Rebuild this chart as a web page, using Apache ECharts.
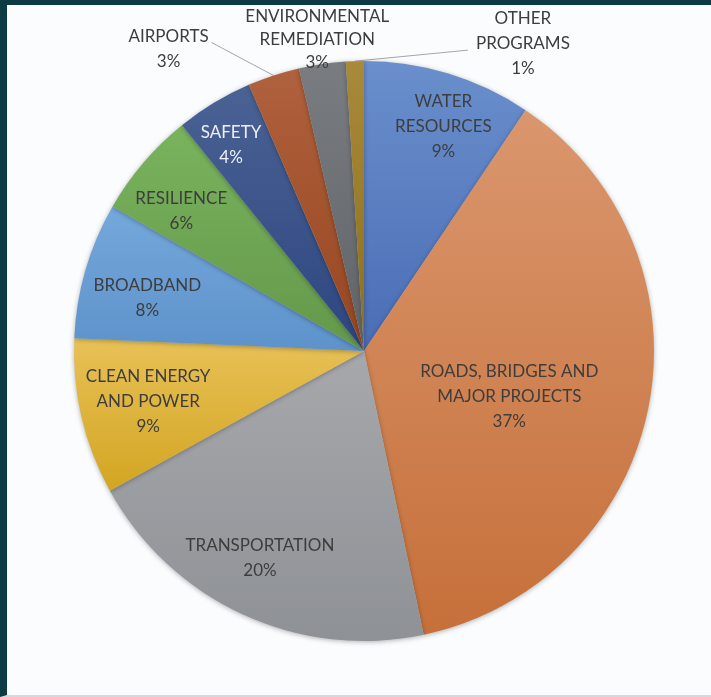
<!DOCTYPE html>
<html>
<head>
<meta charset="utf-8">
<script src="https://cdn.jsdelivr.net/npm/echarts@6/dist/echarts.min.js"></script>
<style>
  html, body { margin: 0; padding: 0; overflow: hidden; }
  #frame {
    position: absolute; left: 0; top: 0;
    width: 704px; height: 690px;
    border-left: 7px solid #0c3b44;
    border-top: 5px solid #0c3b44;
    border-bottom: 2px solid #d3d9dc;
    background: #fafcfd;
  }
  #chart { position: absolute; left: 0; top: 0; width: 711px; height: 697px; }
</style>
</head>
<body>
<div id="frame"></div>
<div id="chart"></div>
<script>
// categories, clockwise from 12 o'clock
const categories = [
  "WATER\nRESOURCES",
  "ROADS, BRIDGES AND\nMAJOR PROJECTS",
  "TRANSPORTATION",
  "CLEAN ENERGY\nAND POWER",
  "BROADBAND",
  "RESILIENCE",
  "SAFETY",
  "AIRPORTS",
  "ENVIRONMENTAL\nREMEDIATION",
  "OTHER\nPROGRAMS",
];
// share of total (%)
const shares = [9.4, 37.3, 20.3, 8.7, 7.6, 5.9, 4.3, 2.9, 2.6, 1.0];

// light (top) / dark (bottom) shade of each slice
const shadeTop = ["#6a8fcc", "#da966d", "#a6a8ac", "#e8c157", "#75a8db", "#7ab35d", "#4a6294", "#b0613d", "#797c80", "#a88a3a"];
const shadeBottom = ["#4a6db5", "#c6703a", "#8e9195", "#d3a522", "#5d92cb", "#63984a", "#2d4680", "#96461f", "#606367", "#8e6e1a"];

// labels the main pie places itself (the rest ride on the transparent ring)
const mainLabels = [1, 6, 7, 8, 9];
const lineLabels = [7, 9];

// small nudges of the ring labels
const ringNudge = { 0: [11, 0], 2: [-6, -7], 3: [13, -3], 4: [9, 13], 5: [-4, 13] };

const chart = echarts.init(document.getElementById("chart"));

const pctLabel = (p) => p.name + "\n" + Math.round(p.percent) + "%";

const mainData = categories.map((name, i) => ({
  name: name,
  value: shares[i],
  itemStyle: {
    color: new echarts.graphic.LinearGradient(0, 0, 0, 1, [
      { offset: 0, color: shadeTop[i] },
      { offset: 1, color: shadeBottom[i] },
    ]),
  },
  label: {
    show: mainLabels.includes(i),
    position: i === 1 ? "inside" : "outside",
    color: i === 6 ? "#eef0f4" : "#3d3d3d",
    lineHeight: i === 8 ? 23 : 25,
  },
  labelLine: { show: lineLabels.includes(i) },
}));

// transparent ring that only carries the inner labels further out
const ringData = categories.map((name, i) => ({
  name: name,
  value: shares[i],
  label: { show: !mainLabels.includes(i) },
}));

const labelFont = {
  fontFamily: "Lato",
  fontSize: 17,
  lineHeight: 25,
  color: "#3d3d3d",
  align: "center",
  formatter: pctLabel,
};

chart.setOption({
  backgroundColor: "transparent",
  animation: false,
  series: [
    {
      type: "pie",
      center: [364, 351],
      radius: 290,
      startAngle: 90,
      clockwise: true,
      avoidLabelOverlap: false,
      data: mainData,
      itemStyle: {
        shadowBlur: 5,
        shadowOffsetY: 1,
        shadowColor: "rgba(0,0,0,0.3)",
      },
      label: labelFont,
      labelLine: {
        length: 10,
        length2: 10,
        lineStyle: { color: "#a6a6a6", width: 1 },
      },
      labelLayout: function (params) {
        const pts = params.labelLinePoints;
        if (params.dataIndex === 1) {
          return { dy: 17 };
        }
        if (!pts) return {};
        const x0 = pts[0][0];
        const y0 = pts[0][1];
        if (params.dataIndex === 6) {
          return { x: x0 + 17, y: y0 + 42, align: "center", verticalAlign: "middle" };
        }
        if (params.dataIndex === 7) {
          return {
            x: x0 - 105, y: y0 - 26, align: "center", verticalAlign: "middle",
            labelLinePoints: [[x0, y0], [x0 - 62, y0 - 33]],
          };
        }
        if (params.dataIndex === 8) {
          return { x: x0 - 5, y: y0 - 25, align: "center", verticalAlign: "middle" };
        }
        if (params.dataIndex === 9) {
          return {
            x: x0 + 168, y: y0 - 18, align: "center", verticalAlign: "middle",
            labelLinePoints: [[x0, y0], [x0 + 113, y0 - 11]],
          };
        }
        return {};
      },
    },
    {
      type: "pie",
      center: [364, 351],
      radius: [174, 290],
      startAngle: 90,
      clockwise: true,
      silent: true,
      avoidLabelOverlap: false,
      data: ringData,
      itemStyle: { color: "rgba(0,0,0,0)" },
      label: Object.assign({}, labelFont, { position: "inside" }),
      labelLine: { show: false },
      labelLayout: function (params) {
        const n = ringNudge[params.dataIndex];
        return n ? { dx: n[0], dy: n[1] } : {};
      },
    },
  ],
});
</script>
</body>
</html>
